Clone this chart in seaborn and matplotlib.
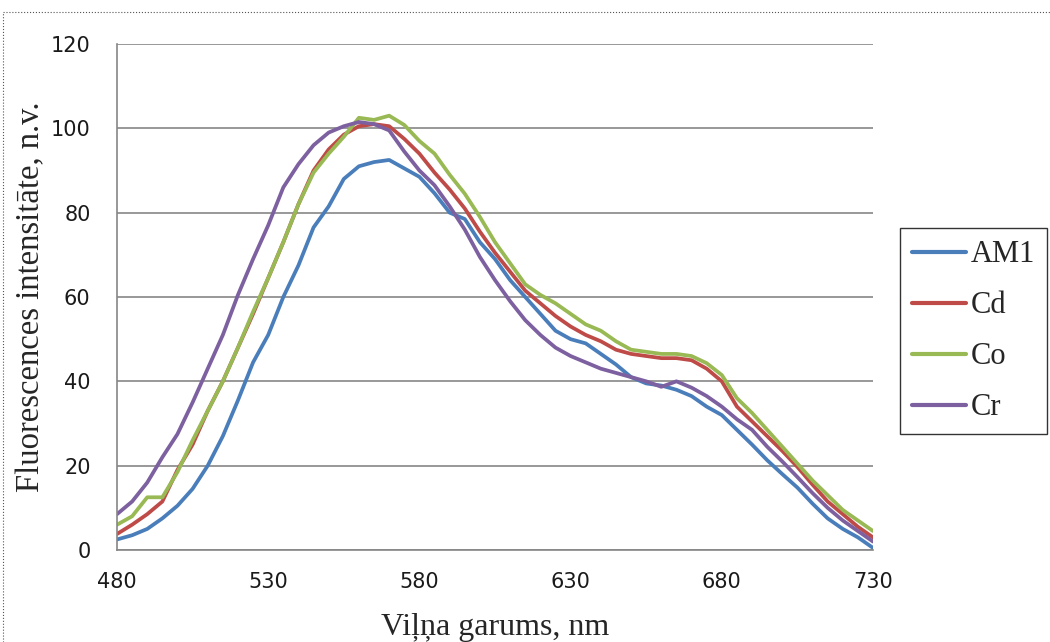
import numpy as np
import pandas as pd
import matplotlib
matplotlib.use("Agg")
import matplotlib.pyplot as plt
import seaborn as sns
from matplotlib.lines import Line2D

wavelength = list(range(480, 731, 5))

am1 = [2.5, 3.5, 5, 7.5, 10.5, 14.5, 20, 27, 35.5, 44.5,
       51, 60, 67.5, 76.5, 81.5, 88, 91, 92, 92.5, 90.5,
       88.5, 84.6, 80, 78.5, 73, 69, 64, 60, 56, 52,
       50, 49, 46.5, 44, 41, 39.5, 39, 38, 36.5, 34,
       32, 28.5, 25, 21.3, 18, 14.8, 11, 7.5, 5, 3, 0.5]

cd = [3.8, 6, 8.5, 11.5, 19, 25, 33, 40, 48, 56,
      64.5, 73, 82, 90, 95, 98.5, 100.5, 101, 100.5, 97.5,
      94, 89.5, 85.5, 81, 75.5, 70.5, 66, 61.5, 58.5, 55.5,
      53, 51, 49.5, 47.5, 46.5, 46, 45.5, 45.5, 45, 43,
      40, 34, 30.5, 27, 23.5, 19.7, 15.5, 11.5, 8.5, 5.5, 3]

co = [6, 8, 12.5, 12.5, 18.5, 26, 33, 40, 48, 56.5,
      64.5, 73, 82, 89.5, 94, 98, 102.5, 102, 103, 100.8,
      97, 94, 89, 84.5, 79, 73, 68, 63, 60.5, 58.5,
      56, 53.5, 52, 49.5, 47.5, 47, 46.5, 46.5, 46, 44.3,
      41.5, 36, 32.5, 28.5, 24.5, 20.5, 16.5, 13, 9.5, 7, 4.5]

cr = [8.5, 11.5, 16, 22, 27.5, 35, 43, 51, 60.5, 69,
      77, 86, 91.5, 96, 99, 100.5, 101.5, 101, 99.5, 94.5,
      90, 86.5, 81.5, 76, 69.5, 64, 59, 54.5, 51, 48,
      46, 44.5, 43, 42, 41, 40, 38.7, 40, 38.5, 36.5,
      34, 31, 28.5, 24.5, 21, 17.3, 13.5, 10, 7, 4.5, 2]

series_names = ["AM1", "Cd", "Co", "Cr"]
series_values = [am1, cd, co, cr]
colors = ["#4A7EBB", "#BE4B48", "#98B954", "#7D60A0"]

x_ticks = [480, 530, 580, 630, 680, 730]
y_ticks = [0, 20, 40, 60, 80, 100, 120]

frames = []
for name, vals in zip(series_names, series_values):
    frames.append(pd.DataFrame({"wl": wavelength, "val": vals, "series": name}))
df = pd.concat(frames, ignore_index=True)

sns.set_style("white")
plt.rcParams["font.family"] = ["DejaVu Sans"]

fig = plt.figure(figsize=(10.5, 6.42), dpi=100)
ax = fig.add_axes([117 / 1050, 1 - 550 / 642, (873 - 117) / 1050, (550 - 44) / 642])

sns.lineplot(data=df, x="wl", y="val", hue="series", palette=colors,
             hue_order=series_names, linewidth=2.7, ax=ax, legend=False)

ax.set_xlim(480, 730)
ax.set_ylim(0, 120)
ax.set_xticks(x_ticks)
ax.set_yticks(y_ticks)
ax.yaxis.grid(True, color="#868686", linewidth=1.2)
ax.xaxis.grid(False)
ax.set_axisbelow(True)
for s in ["top", "right"]:
    ax.spines[s].set_visible(False)
for s in ["left", "bottom"]:
    ax.spines[s].set_color("#868686")
    ax.spines[s].set_linewidth(1.2)
ax.tick_params(axis="both", which="major", direction="out", length=7, width=1.2,
               color="#868686", labelsize=15, labelcolor="#1a1a1a")
ax.tick_params(axis="y", pad=12)
ax.tick_params(axis="x", pad=9)

serif = ["Liberation Serif", "DejaVu Serif"]
ax.set_xlabel("Viļņa garums, nm", fontsize=23, family=serif, labelpad=15)
ax.set_ylabel("Fluorescences intensitāte, n.v.", fontsize=23.5, family=serif, labelpad=3)

handles = [Line2D([0], [0], color=c, linewidth=3.0) for c in colors]
leg = fig.legend(handles, series_names, loc="upper left",
                 bbox_to_anchor=(900 / 1050, 1 - 228 / 642),
                 prop={"family": serif, "size": 22},
                 frameon=True, fancybox=False, edgecolor="black",
                 handlelength=1.77, handletextpad=0.13, labelspacing=0.72,
                 borderpad=0.4, borderaxespad=0)
leg.get_frame().set_linewidth(1.0)

# outer chart border (dotted)
fig.add_artist(Line2D([3 / 1050, 1.0], [1 - 12 / 642, 1 - 12 / 642],
                      transform=fig.transFigure, color="#555555", linewidth=0.8, linestyle=":"))
fig.add_artist(Line2D([3 / 1050, 3 / 1050], [0, 1 - 12 / 642],
                      transform=fig.transFigure, color="#555555", linewidth=0.8, linestyle=":"))

fig.savefig("out.png", dpi=100)
